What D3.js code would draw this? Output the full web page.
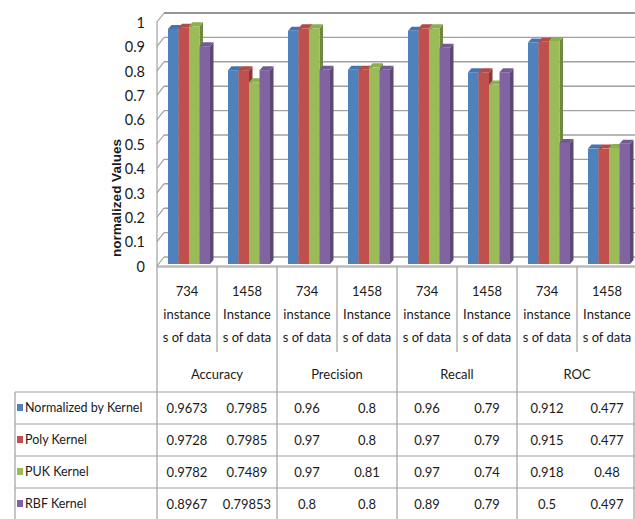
<!DOCTYPE html>
<html>
<head>
<meta charset="utf-8">
<script src="https://cdn.jsdelivr.net/npm/d3@7"></script>
<style>
  body { margin: 0; background: #fff; }
  svg text { font-family: Lato, "Open Sans", sans-serif; fill: #1a1a1a; }
</style>
</head>
<body>
<div class="chart"></div>
<script>
// category axis: sub categories (3 text lines each) and groups
var subLabels = [
    ["734", "instance", "s of data"], ["1458", "Instance", "s of data"],
    ["734", "instance", "s of data"], ["1458", "Instance", "s of data"],
    ["734", "instance", "s of data"], ["1458", "Instance", "s of data"],
    ["734", "instance", "s of data"], ["1458", "Instance", "s of data"]
];
var groups = ["Accuracy", "Precision", "Recall", "ROC"];

var seriesNames = ["Normalized by Kernel", "Poly Kernel", "PUK Kernel", "RBF Kernel"];
var normalizedVals = [0.9673, 0.7985, 0.96, 0.8, 0.96, 0.79, 0.912, 0.477];
var polyVals = [0.9728, 0.7985, 0.97, 0.8, 0.97, 0.79, 0.915, 0.477];
var pukVals = [0.9782, 0.7489, 0.97, 0.81, 0.97, 0.74, 0.918, 0.48];
var rbfVals = [0.8967, 0.79853, 0.8, 0.8, 0.89, 0.79, 0.5, 0.497];
var yTicks = [0, 0.1, 0.2, 0.3, 0.4, 0.5, 0.6, 0.7, 0.8, 0.9, 1];

var colors = ["#4F81BD", "#C0504D", "#9BBB59", "#8064A2"];
var sideColors = ["#385D8A", "#8C3836", "#71893F", "#5C4776"];
var topColors = ["#4575b0", "#b24a47", "#8caf50", "#735a95"];

var allVals = [normalizedVals, polyVals, pukVals, rbfVals];

var width = 635, height = 519;
var left = 157, right = 637;
var depthX = 7, depthY = -9;      // wall depth
var barDX = 3.5, barDY = -4;      // bar depth

var svg = d3.select(".chart").append("svg")
    .attr("width", width)
    .attr("height", height);

var x = d3.scaleBand()
    .domain(d3.range(subLabels.length))
    .range([left, right]);

var xs = d3.scaleBand()
    .domain(d3.range(seriesNames.length))
    .range([11, 53]);

var y = d3.scaleLinear()
    .domain([0, 1])
    .range([266, 22]);

var gridColor = "#a0a0a0";

// back wall gridlines
var wall = svg.append("g");
wall.selectAll(".grid")
    .data(yTicks)
    .enter()
    .append("line")
    .attr("x1", left + depthX)
    .attr("x2", width)
    .attr("y1", d => y(d) + depthY)
    .attr("y2", d => y(d) + depthY)
    .attr("stroke", d => d == 1 ? "#969696" : gridColor)
    .attr("stroke-width", d => d == 1 ? 2 : 1.4);

// side wall slants
wall.selectAll(".slant")
    .data(yTicks)
    .enter()
    .append("line")
    .attr("x1", left)
    .attr("x2", left + depthX)
    .attr("y1", d => y(d))
    .attr("y2", d => y(d) + depthY)
    .attr("stroke", gridColor)
    .attr("stroke-width", 1.2);

// front floor edge
wall.append("line")
    .attr("x1", left).attr("x2", width)
    .attr("y1", y(0)).attr("y2", y(0))
    .attr("stroke", gridColor).attr("stroke-width", 1.2);

// bars
var bars = svg.append("g");
allVals.forEach(function (vals, s) {
    var g = bars.append("g");
    vals.forEach(function (v, i) {
        var x0 = x(i) + xs(s), w = xs.bandwidth();
        var y0 = y(v) - 1, yb = y(0) - 2;
        g.append("path")
            .attr("d", "M" + (x0 + w) + "," + y0 + "L" + (x0 + w + barDX) + "," + (y0 + barDY) +
                "L" + (x0 + w + barDX) + "," + (yb + barDY) + "L" + (x0 + w) + "," + yb + "Z")
            .attr("fill", sideColors[s]);
        g.append("path")
            .attr("d", "M" + x0 + "," + y0 + "L" + (x0 + barDX) + "," + (y0 + barDY) +
                "L" + (x0 + w + barDX) + "," + (y0 + barDY) + "L" + (x0 + w) + "," + y0 + "Z")
            .attr("fill", topColors[s]);
        g.append("rect")
            .attr("x", x0)
            .attr("y", y0)
            .attr("width", w)
            .attr("height", yb - y0)
            .attr("fill", colors[s]);
    });
});

// y axis labels
svg.append("g")
    .attr("transform", "translate(145,0)")
    .call(d3.axisLeft(y).tickValues(yTicks).tickSize(0).tickPadding(0).tickFormat(d3.format("")))
    .call(g => g.select(".domain").remove())
    .selectAll("text")
    .style("font-size", "14.5px")
    .attr("dy", "0.36em");

svg.append("text")
    .attr("transform", "translate(121,198) rotate(-90)")
    .attr("text-anchor", "middle")
    .style("font-family", "'Liberation Sans', Arial, sans-serif")
    .style("font-weight", "bold")
    .style("font-size", "13.5px")
    .text("normalized Values");

// category table lines
var lineColor = "#a0a0a0";
var lines = svg.append("g").attr("stroke", lineColor).attr("stroke-width", 1.2);
lines.append("line").attr("x1", left).attr("x2", left).attr("y1", y(1)).attr("y2", height);
lines.append("line").attr("x1", left).attr("x2", width).attr("y1", 267).attr("y2", 267);
d3.range(1, subLabels.length).forEach(function (i) {
    lines.append("line")
        .attr("x1", x(i)).attr("x2", x(i))
        .attr("y1", 267)
        .attr("y2", i % 2 == 0 ? height : 352);
});

// sub category labels
var cat = svg.append("g");
subLabels.forEach(function (lbl, i) {
    lbl.forEach(function (t, k) {
        cat.append("text")
            .attr("x", x(i) + x.bandwidth() / 2)
            .attr("y", 291 + k * 23)
            .attr("dy", "0.35em")
            .attr("text-anchor", "middle")
            .style("font-size", "13px")
            .text(t);
    });
});
groups.forEach(function (gname, j) {
    cat.append("text")
        .attr("x", x(j * 2) + x.bandwidth())
        .attr("y", 374)
        .attr("dy", "0.35em")
        .attr("text-anchor", "middle")
        .style("font-size", "13px")
        .text(gname);
});

// data table
var rowTop = 392, rowH = 32, tableLeft = 15;
var table = svg.append("g");
d3.range(seriesNames.length + 1).forEach(function (r) {
    table.append("line")
        .attr("x1", tableLeft).attr("x2", width)
        .attr("y1", rowTop + r * rowH).attr("y2", rowTop + r * rowH)
        .attr("stroke", lineColor).attr("stroke-width", 1.2);
});
table.append("line")
    .attr("x1", tableLeft).attr("x2", tableLeft)
    .attr("y1", rowTop).attr("y2", height)
    .attr("stroke", lineColor).attr("stroke-width", 1.2);
table.append("line")
    .attr("x1", width - 1).attr("x2", width - 1)
    .attr("y1", rowTop).attr("y2", height)
    .attr("stroke", lineColor).attr("stroke-width", 1.2);

seriesNames.forEach(function (name, s) {
    var cy = rowTop + s * rowH + rowH / 2;
    table.append("rect")
        .attr("x", 17).attr("y", cy - 4)
        .attr("width", 6).attr("height", 7)
        .attr("fill", colors[s]);
    table.append("text")
        .attr("x", 25).attr("y", cy)
        .attr("dy", "0.35em")
        .style("font-size", "12.5px")
        .text(name);
    allVals[s].forEach(function (v, i) {
        table.append("text")
            .attr("x", x(i) + x.bandwidth() / 2)
            .attr("y", cy)
            .attr("dy", "0.35em")
            .attr("text-anchor", "middle")
            .style("font-size", "13px")
            .text(String(v));
    });
});
</script>
</body>
</html>
